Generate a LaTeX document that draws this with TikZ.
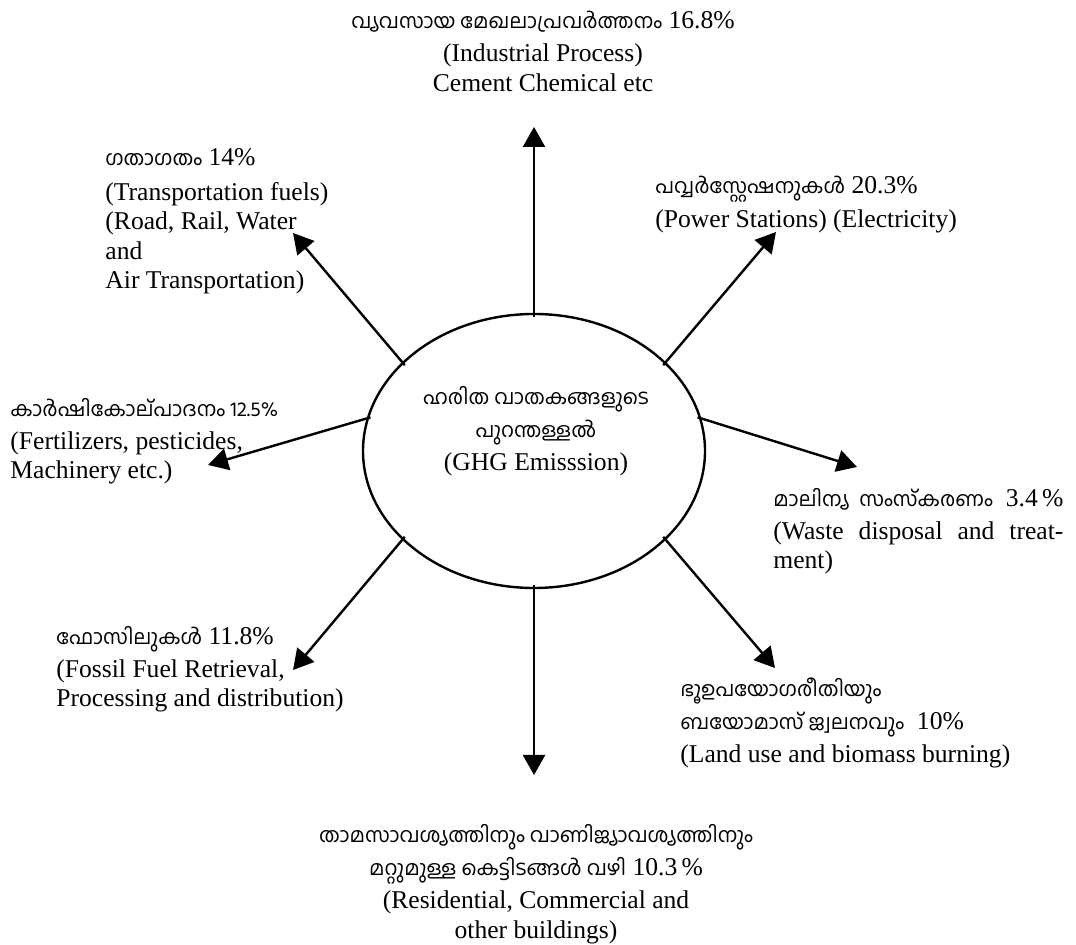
\documentclass[tikz,border=0pt]{standalone}
\usepackage{fontspec}
\setmainfont{Liberation Serif}
\newfontfamily\mal[Script=Malayalam,Scale=0.8]{Hind Kochi}
\usetikzlibrary{arrows.meta,shapes.geometric}

\begin{document}
\begin{tikzpicture}[x=0.5pt,y=-0.5pt,>={Triangle[length=10pt,width=11pt]},
  lbl/.style={inner sep=0pt,align=left,font=\fontsize{12.8}{14.6}\selectfont},
  arr/.style={->,line width=1.2pt,shorten <=-2pt}]
\useasboundingbox (0,0) rectangle (1076,945);
\node[draw,ellipse,line width=1.2pt,minimum width=171pt,minimum height=137pt,inner sep=0pt] (ghg) at (534,451) {};
\node[lbl,align=center] (ghgtxt) at (536,431) {{\mal ഹരിത വാതകങ്ങളുടെ}\\[2pt]{\mal പുറന്തള്ളൽ}\\[2pt](GHG Emisssion)};
\coordinate (ind) at (534,127);
\coordinate (pow) at (776,232);
\coordinate (tra) at (293,233);
\coordinate (agr) at (208,465);
\coordinate (was) at (857,467);
\coordinate (fos) at (293,670);
\coordinate (lan) at (775,668);
\coordinate (res) at (534,775);
\draw[arr] (ghg.north) -- (ind);
\draw[arr] (ghg.34) -- (pow);
\draw[arr] (ghg.146) -- (tra);
\draw[arr] (ghg.169) -- (agr);
\draw[arr] (ghg.11) -- (was);
\draw[arr] (ghg.214) -- (fos);
\draw[arr] (ghg.326) -- (lan);
\draw[arr] (ghg.south) -- (res);
\node[lbl,align=center,anchor=north] (indtxt) at (543,11) {{\mal വ്യവസായ മേഖലാപ്രവർത്തനം} 16.8\%\\[2pt](Industrial Process)\\Cement Chemical etc};
\node[lbl,anchor=north west] (tratxt) at (105,148) {{\mal ഗതാഗതം} 14\%\\[3pt](Transportation fuels)\\(Road, Rail, Water\\and\\Air Transportation)};
\node[lbl,anchor=north west] (powtxt) at (655,176) {{\mal പവ്വർസ്റ്റേഷനുകൾ} 20.3\%\\[2pt](Power Stations) (Electricity)};
\node[lbl,anchor=north west] (agrtxt) at (10,398) {{\mal കാർഷികോല്പാദനം 12.5\%}\\[2pt](Fertilizers, pesticides,\\Machinery etc.)};
\node[lbl,anchor=north west] (wastxt) at (773,488) {\makebox[145pt][s]{{\mal മാലിന്യ സംസ്കരണം} 3.4\,\%}\\[2pt]\makebox[145pt][s]{(Waste disposal and treat-}\\ment)};
\node[lbl,anchor=north west] (fostxt) at (56,626) {{\mal ഫോസിലുകൾ} 11.8\%\\[2pt](Fossil Fuel Retrieval,\\Processing and distribution)};
\node[lbl,anchor=north west] (lantxt) at (680,677) {{\mal ഭൂഉപയോഗരീതിയും}\\[2pt]{\mal ബയോമാസ് ജ്വലനവും} \ 10\%\\[2pt](Land use and biomass burning)};
\node[lbl,align=center,anchor=north] (restxt) at (536,824) {{\mal താമസാവശ്യത്തിനും വാണിജ്യാവശ്യത്തിനും}\\[2pt]{\mal മറ്റുമുള്ള കെട്ടിടങ്ങൾ വഴി} 10.3\,\%\\[2pt](Residential, Commercial and\\other buildings)};
\end{tikzpicture}
\end{document}
